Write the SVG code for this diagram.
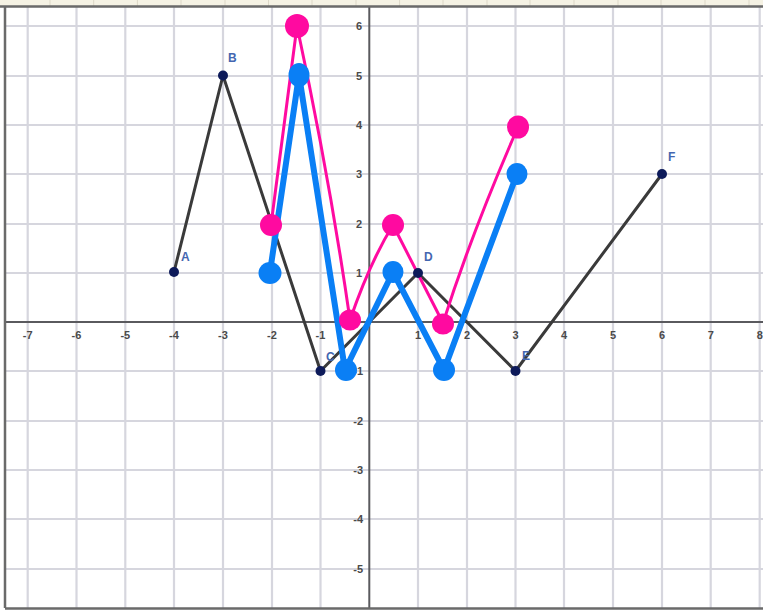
<svg xmlns="http://www.w3.org/2000/svg" width="763" height="611" viewBox="0 0 763 611">
<style>
.grid{stroke:#d6d6de;stroke-width:2.2;fill:none}
.axis{stroke:#5a5a5e;stroke-width:2;fill:none}
.border{stroke:#6a6a6a;stroke-width:2.5;fill:none}
.sep{stroke:#ddd8c8;stroke-width:1}
.num{font-family:"Liberation Sans",Arial,sans-serif;font-size:11px;font-weight:bold;fill:#4a4a4a}
.lbl{font-family:"Liberation Sans",Arial,sans-serif;font-size:12px;font-weight:bold;fill:#4466b0}
.orig{stroke:#3a3a3a;stroke-width:3;fill:none;stroke-linejoin:round}
.blue{stroke:#0a7ff5;stroke-width:6;fill:none;stroke-linejoin:round;stroke-linecap:round}
.pink{stroke:#ff0aa0;stroke-width:3;fill:none;stroke-linejoin:round;stroke-linecap:round}
.pt{fill:#0d1a5a}
.bd{fill:#0a7ff5}
.pd{fill:#ff0aa0}
</style>
<rect x="0" y="0" width="763" height="611" fill="#ffffff"/>
<g id="toolbar">
<rect x="0" y="0" width="763" height="6" fill="#f5f2e4"/>
<path class="sep" d="M50,0V6M93.7,0V6M137.4,0V6M181,0V6M225,0V6M268.5,0V6M312,0V6M356,0V6M399.6,0V6M443,0V6M487,0V6M530,0V6M574,0V6M618,0V6M661,0V6M705,0V6M749,0V6"/>
</g>
<g id="grid">
<path class="grid" d="M27.7,6V608M76.5,6V608M125.3,6V608M174,6V608M223,6V608M272,6V608M320.5,6V608M418,6V608M467,6V608M515.5,6V608M564,6V608M613,6V608M662,6V608M710.7,6V608M759.7,6V608"/>
<path class="grid" d="M5,26H763M5,76H763M5,125H763M5,174H763M5,224H763M5,273H763M5,371H763M5,421H763M5,470H763M5,519H763M5,569H763"/>
</g>
<g id="axes">
<path class="axis" d="M5,322H763M369.3,6V608"/>
<path class="border" d="M0,6.5H763M5,6V608M5,608.5H763"/>
</g>
<g id="axis-labels">
<g class="num" text-anchor="middle">
<text x="27.7" y="339">-7</text>
<text x="76.5" y="339">-6</text>
<text x="125.3" y="339">-5</text>
<text x="174" y="339">-4</text>
<text x="223" y="339">-3</text>
<text x="272" y="339">-2</text>
<text x="320.5" y="339">-1</text>
<text x="418" y="339">1</text>
<text x="467" y="339">2</text>
<text x="515.5" y="339">3</text>
<text x="564" y="339">4</text>
<text x="613" y="339">5</text>
<text x="662" y="339">6</text>
<text x="710.7" y="339">7</text>
<text x="759.7" y="339">8</text>
</g>
<g class="num" text-anchor="end">
<text x="362" y="30">6</text>
<text x="362" y="80">5</text>
<text x="362" y="129">4</text>
<text x="362" y="178">3</text>
<text x="362" y="228">2</text>
<text x="362" y="277">1</text>
<text x="363" y="375">-1</text>
<text x="363" y="425">-2</text>
<text x="363" y="474">-3</text>
<text x="363" y="523">-4</text>
<text x="363" y="573">-5</text>
</g>
</g>
<g id="connectors">
<polyline class="orig" points="174,272 223,75.5 320.5,371 418,273 515.5,371 662,174"/>
<path class="pink" d="M271,225 L297,26 Q330,180 350,320 Q370,262 393,225 L443,323 Q472,232 518,127"/>
<polyline class="blue" points="270,272 299,75 345,370 393,272 444,370 517,174"/>
</g>
<g id="node-A"><circle class="pt" cx="174" cy="272" r="5"/><text class="lbl" x="181" y="261">A</text></g>
<g id="node-B"><circle class="pt" cx="223" cy="75.5" r="5"/><text class="lbl" x="228" y="62">B</text></g>
<g id="node-C"><circle class="pt" cx="320.5" cy="371" r="5"/><text class="lbl" x="326" y="361">C</text></g>
<g id="node-D"><circle class="pt" cx="418" cy="273" r="5"/><text class="lbl" x="424" y="261">D</text></g>
<g id="node-E"><circle class="pt" cx="515.5" cy="371" r="5"/><text class="lbl" x="522" y="360">E</text></g>
<g id="node-F"><circle class="pt" cx="662" cy="174" r="5"/><text class="lbl" x="668" y="161">F</text></g>
<g id="pink-1"><ellipse class="pd" cx="271" cy="225" rx="11" ry="11"/></g>
<g id="pink-2"><ellipse class="pd" cx="297" cy="26" rx="12" ry="12"/></g>
<g id="pink-3"><ellipse class="pd" cx="350" cy="320" rx="11" ry="10.5"/></g>
<g id="pink-4"><ellipse class="pd" cx="393" cy="225" rx="11" ry="11"/></g>
<g id="pink-5"><ellipse class="pd" cx="443" cy="324" rx="11" ry="10.5"/></g>
<g id="pink-6"><ellipse class="pd" cx="518" cy="127" rx="11" ry="11.5"/></g>
<g id="blue-1"><ellipse class="bd" cx="270" cy="273" rx="11.5" ry="11"/></g>
<g id="blue-2"><ellipse class="bd" cx="299" cy="75" rx="10.5" ry="12"/></g>
<g id="blue-3"><ellipse class="bd" cx="346" cy="370" rx="11" ry="11"/></g>
<g id="blue-4"><ellipse class="bd" cx="393" cy="272" rx="10.5" ry="11"/></g>
<g id="blue-5"><ellipse class="bd" cx="444" cy="370" rx="11" ry="11"/></g>
<g id="blue-6"><ellipse class="bd" cx="517" cy="174" rx="10.5" ry="11"/></g>
</svg>
